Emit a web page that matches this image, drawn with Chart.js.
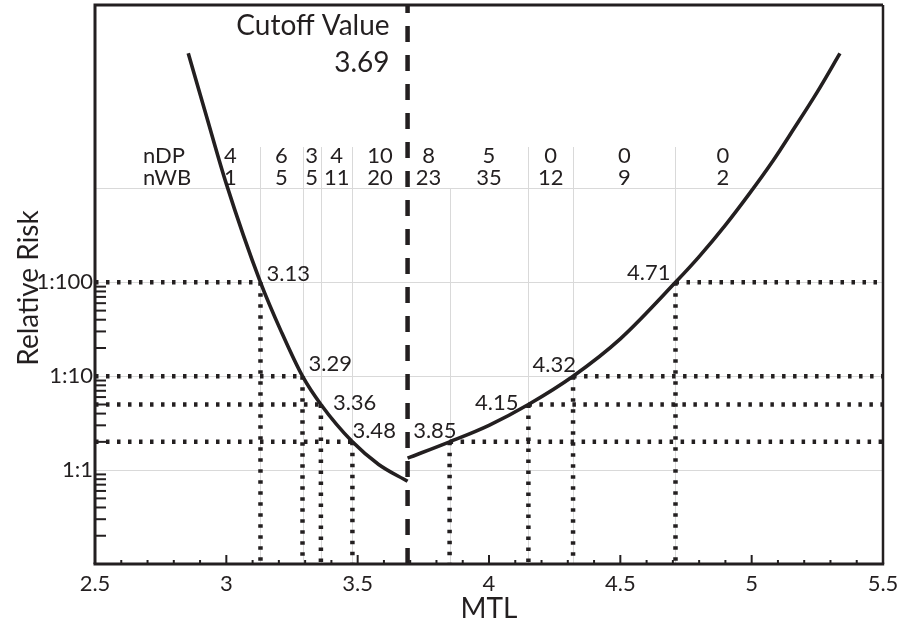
<!DOCTYPE html>
<html>
<head>
<meta charset="utf-8">
<script src="https://cdn.jsdelivr.net/npm/chart.js@4/dist/chart.umd.min.js"></script>
<style>
  body { margin: 0; background: #fff; }
  #mtl_risk_plot { display: block; }
</style>
</head>
<body>
<canvas id="mtl_risk_plot" width="898" height="624"></canvas>
<script>
// curve (MTL vs relative risk)
const leftMTL = [2.855, 2.92, 3.0, 3.13, 3.21, 3.29, 3.36, 3.48, 3.58, 3.69];
const leftRisk = [27500, 6500, 1120, 100, 29.5, 10, 5, 2, 1.15, 0.76];
const rightMTL = [3.69, 3.85, 4.0, 4.15, 4.32, 4.5, 4.71, 4.8, 4.9, 4.99, 5.08, 5.16, 5.25, 5.336];
const rightRisk = [1.34, 2, 3.0, 5, 10, 25, 100, 188, 407, 870, 1950, 4300, 10700, 27500];

const cutoff = 3.69;
const leftCuts = [3.13, 3.29, 3.36, 3.48];
const leftLevels = [100, 10, 5, 2];
const rightCuts = [3.85, 4.15, 4.32, 4.71];
const rightLevels = [2, 5, 10, 100];

// counts table
const colEdges = [2.9, 3.13, 3.29, 3.36, 3.48, 3.69, 3.85, 4.15, 4.32, 4.71, 5.07];
const nDP = [4, 6, 3, 4, 10, 8, 5, 0, 0, 0];
const nWB = [1, 5, 5, 11, 20, 23, 35, 12, 9, 2];

const xTickValues = [2.5, 3, 3.5, 4, 4.5, 5, 5.5];
const xTickLabels = ['2.5', '3', '3.5', '4', '4.5', '5', '5.5'];
const yTickValues = [1, 10, 100, 1000];
const yTickLabels = ['1:1', '1:10', '1:100', ''];

const xMin = 2.5, xMax = 5.5, yMin = 0.1, yMax = 90000;

const ink = '#231f20';
const FONT = 'Lato, "Open Sans", sans-serif';

function pts(xs, ys) { return xs.map((v, i) => ({x: v, y: ys[i]})); }

const dotted = {borderColor: ink, borderWidth: 4.5, borderDash: [3.5, 7.5], pointRadius: 0, fill: false};

let datasets = [
  {data: pts(leftMTL, leftRisk), borderColor: ink, borderWidth: 3.6, pointRadius: 0, cubicInterpolationMode: 'monotone'},
  {data: pts(rightMTL, rightRisk), borderColor: ink, borderWidth: 3.6, pointRadius: 0, cubicInterpolationMode: 'monotone'},
  {data: [{x: cutoff, y: yMin}, {x: cutoff, y: yMax}], borderColor: ink, borderWidth: 4.5, borderDash: [16, 13], pointRadius: 0}
];
leftCuts.forEach((c, i) => {
  datasets.push({...dotted, data: [{x: xMin, y: leftLevels[i]}, {x: c, y: leftLevels[i]}]});
  datasets.push({...dotted, data: [{x: c, y: leftLevels[i]}, {x: c, y: yMin}]});
});
rightCuts.forEach((c, i) => {
  datasets.push({...dotted, data: [{x: c, y: rightLevels[i]}, {x: xMax, y: rightLevels[i]}]});
  datasets.push({...dotted, data: [{x: c, y: rightLevels[i]}, {x: c, y: yMin}]});
});

// label placement next to each cut: [dx, dy, align]
const leftLabelPos = [[6, -1, 'left'], [6, -5, 'left'], [12, 6, 'left'], [0, -4, 'left']];
const rightLabelPos = [[7, -4, 'right'], [-10, 6, 'right'], [3, -4, 'right'], [-5, -2, 'right']];
const HEADER_TOP = 147;

const decor = {
  id: 'decor',
  beforeDatasetsDraw(chart) {
    const {ctx, chartArea: a, scales: {x, y}} = chart;
    ctx.save();
    ctx.strokeStyle = '#d9d9d9';
    ctx.lineWidth = 1;
    colEdges.slice(1, -1).forEach(e => {
      if (e === cutoff) return;
      const px = Math.round(x.getPixelForValue(e)) + 0.5;
      const top = e === 3.85 ? y.getPixelForValue(1000) : HEADER_TOP;
      ctx.beginPath();
      ctx.moveTo(px, top);
      ctx.lineTo(px, a.bottom);
      ctx.stroke();
    });
    ctx.restore();
  },
  afterDraw(chart) {
    const {ctx, chartArea: a, scales: {x, y}} = chart;
    ctx.save();
    ctx.strokeStyle = ink;
    ctx.fillStyle = ink;
    // frame
    ctx.lineWidth = 3;
    ctx.beginPath();
    ctx.moveTo(a.left, a.bottom);
    ctx.lineTo(a.left, a.top);
    ctx.lineTo(a.right, a.top);
    ctx.stroke();
    ctx.lineWidth = 2.5;
    ctx.beginPath();
    ctx.moveTo(a.right, a.top);
    ctx.lineTo(a.right, a.bottom);
    ctx.stroke();
    ctx.lineWidth = 3;
    ctx.beginPath();
    ctx.moveTo(a.left - 1.5, a.bottom);
    ctx.lineTo(a.right + 1.2, a.bottom);
    ctx.stroke();

    // x ticks (inside)
    ctx.lineWidth = 2;
    for (let k = 1; k < 30; k++) {
      const v = xMin + k * 0.1;
      const px = x.getPixelForValue(v);
      const len = k % 5 === 0 ? 9 : 4;
      ctx.beginPath();
      ctx.moveTo(px, a.bottom);
      ctx.lineTo(px, a.bottom - len);
      ctx.stroke();
    }
    // y minor ticks (inside)
    [0.1, 1, 10].forEach(d => {
      for (let m = 2; m <= 9; m++) {
        const py = y.getPixelForValue(m * d);
        ctx.beginPath();
        ctx.moveTo(a.left, py);
        ctx.lineTo(a.left + 11, py);
        ctx.stroke();
      }
    });

    // cut labels
    ctx.font = '22px ' + FONT;
    ctx.textBaseline = 'alphabetic';
    leftCuts.forEach((c, i) => {
      const [dx, dy, al] = leftLabelPos[i];
      ctx.textAlign = al;
      ctx.fillText(c.toFixed(2), x.getPixelForValue(c) + dx, y.getPixelForValue(leftLevels[i]) + dy);
    });
    rightCuts.forEach((c, i) => {
      const [dx, dy, al] = rightLabelPos[i];
      ctx.textAlign = al;
      ctx.fillText(c.toFixed(2), x.getPixelForValue(c) + dx, y.getPixelForValue(rightLevels[i]) + dy);
    });

    // counts table
    ctx.textAlign = 'left';
    ctx.fillText('nDP', 143, 163);
    ctx.fillText('nWB', 143, 185);
    ctx.textAlign = 'center';
    for (let i = 0; i < nDP.length; i++) {
      const cx = x.getPixelForValue((colEdges[i] + colEdges[i + 1]) / 2);
      ctx.fillText(String(nDP[i]), cx, 163);
      ctx.fillText(String(nWB[i]), cx, 185);
    }

    // cutoff caption
    ctx.font = '28px ' + FONT;
    ctx.textAlign = 'right';
    const cx = x.getPixelForValue(cutoff) - 18;
    ctx.fillText('Cutoff Value', cx, 35);
    ctx.fillText(cutoff.toFixed(2), cx, 72);

    // axis titles
    ctx.textAlign = 'center';
    ctx.fillText('MTL', (a.left + a.right) / 2, 618);
    ctx.translate(38, 288);
    ctx.rotate(-Math.PI / 2);
    ctx.fillText('Relative Risk', 0, 0);
    ctx.restore();
  }
};

const mtl_risk_plot_chart = new Chart(
  document.querySelector('#mtl_risk_plot'),
  {
    type: 'line',
    data: {datasets: datasets},
    plugins: [decor],
    options: {
      responsive: false,
      animation: false,
      devicePixelRatio: 1,
      layout: {padding: {top: 5, right: 15, left: 0, bottom: 0}},
      plugins: {legend: {display: false}, tooltip: {enabled: false}},
      scales: {
        x: {
          type: 'linear',
          position: 'bottom',
          min: xMin,
          max: xMax,
          afterBuildTicks: s => { s.ticks = xTickValues.map(v => ({value: v})); },
          afterFit: s => { s.height = 60; s.paddingLeft = 0; s.paddingRight = 0; },
          grid: {display: false, drawTicks: false},
          border: {display: false},
          ticks: {
            autoSkip: false,
            maxRotation: 0,
            padding: 7,
            color: ink,
            font: {family: FONT, size: 22},
            callback: (v, i) => xTickLabels[i]
          }
        },
        y: {
          type: 'logarithmic',
          min: yMin,
          max: yMax,
          afterBuildTicks: s => { s.ticks = yTickValues.map(v => ({value: v})); },
          afterFit: s => { s.width = 95; s.paddingTop = 0; s.paddingBottom = 0; },
          grid: {color: '#d9d9d9', lineWidth: 1, drawTicks: false},
          border: {display: false},
          ticks: {
            autoSkip: false,
            padding: 2,
            color: ink,
            font: {family: FONT, size: 22},
            callback: (v, i) => yTickLabels[i]
          }
        }
      }
    }
  }
);
</script>
</body>
</html>
